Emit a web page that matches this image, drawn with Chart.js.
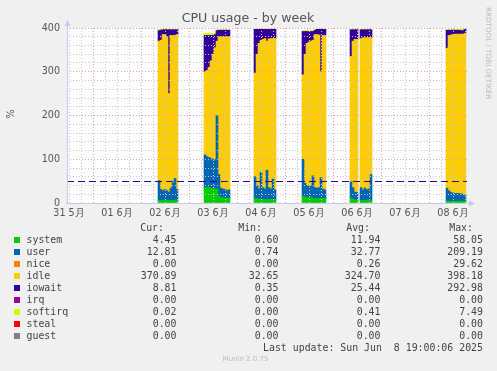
<!DOCTYPE html>
<html>
<head>
<meta charset="utf-8">
<script src="https://cdn.jsdelivr.net/npm/chart.js@4.4.1/dist/chart.umd.min.js"></script>
<style>
  html, body { margin: 0; padding: 0; background: #f0f0f0; }
  #wrap { position: relative; width: 497px; height: 371px; overflow: hidden; }
  #c { position: absolute; left: 0; top: 0; }
  .t { position: absolute; font: 9.9px "DejaVu Sans Mono", monospace; color: #444; line-height: 12px; white-space: pre; }
  .sq { position: absolute; width: 6px; height: 6px; }
  #munin { position: absolute; left: 0; width: 491px; text-align: center; top: 355px; font: 7px "DejaVu Sans", sans-serif; color: #bbb; }
</style>
</head>
<body>
<div id="wrap">
  <canvas id="c" width="497" height="225"></canvas>
  <div id="legend"></div>
  <div id="munin">Munin 2.0.75</div>
</div>
<script>
// hours since 31 May 00:00, one sample per hour where data exists
const hours = [
  57, 58, 59, 60, 61, 62, 63, 64, 65, 66,
  80, 81, 82, 83, 84, 85, 86, 87, 88, 89, 90, 91, 92,
  105, 106, 107, 108, 109, 110, 111, 112, 113, 114, 115,
  129, 130, 131, 132, 133, 134, 135, 136, 137, 138, 139, 140,
  153, 154, 155, 156,
  158, 159, 160, 161, 162, 163,
  201, 202, 203, 204, 205, 206, 207, 208, 209, 210
];
const system = [
  6, 6, 6, 6, 6, 5, 6, 6, 6, 6,
  35, 36, 36, 34, 34, 33, 32, 15, 12, 12, 11, 11, 11,
  10, 10, 9, 8, 8, 8, 8, 8, 8, 8, 8,
  15, 14, 13, 12, 12, 10, 10, 10, 10, 10, 10, 10,
  11, 9, 7, 7,
  6, 6, 6, 6, 6, 6,
  5, 4, 4, 4, 4, 4, 4, 4, 4, 4.45
];
const user = [
  45, 25, 22, 25, 22, 20, 28, 40, 50, 25,
  75, 70, 68, 68, 66, 67, 168, 50, 22, 20, 20, 18, 19,
  50, 30, 23, 62, 27, 24, 67, 27, 24, 47, 22,
  85, 31, 27, 26, 28, 52, 25, 24, 25, 48, 22, 20,
  37, 26, 18, 17,
  29, 24, 28, 24, 26, 59,
  29, 24, 20, 19, 18, 18, 18, 17, 16, 12.81
];
const idle = [
  319, 341, 357, 354, 352, 225, 349, 337, 327, 354,
  190, 197, 206, 223, 240, 255, 170, 315, 346, 348, 349, 351, 350,
  237, 300, 333, 302, 339, 344, 295, 340, 344, 321, 346,
  193, 295, 325, 330, 330, 310, 350, 351, 349, 242, 351, 353,
  287, 335, 349, 350,
  341, 348, 344, 348, 346, 313,
  320, 355, 360, 362, 364, 364, 364, 365, 366, 370.89
];
const iowait = [
  24, 23, 11, 11, 16, 146, 13, 13, 13, 11,
  83, 80, 73, 58, 43, 30, 24, 15, 15, 15, 15, 15, 15,
  100, 57, 32, 25, 23, 21, 27, 22, 21, 21, 21,
  99, 52, 27, 24, 22, 20, 10, 12, 13, 97, 14, 14,
  61, 26, 22, 22,
  20, 18, 18, 18, 18, 18,
  41, 12, 11, 10, 9, 9, 9, 8, 8, 8.81
];
const softirq = [
  3, 2, 1, 1, 1, 1, 1, 1, 1, 1,
  5, 5, 5, 5, 5, 4, 2, 1, 1, 1, 1, 1, 1,
  1, 1, 1, 1, 1, 1, 1, 1, 1, 1, 1,
  2, 2, 2, 2, 2, 2, 1, 1, 1, 1, 1, 1,
  1, 1, 1, 1,
  1, 1, 1, 1, 1, 1,
  1, 1, 1, 1, 1, 1, 2, 3, 3, 0.02
];

const gridHours = [12, 18, 24, 30, 36, 42, 48, 54, 60, 66, 72, 78, 84, 90, 96, 102, 108, 114, 120,
  126, 132, 138, 144, 150, 156, 162, 168, 174, 180, 186, 192, 198, 204, 210];
const dayLabels = ['31 5月', '01 6月', '02 6月', '03 6月', '04 6月', '05 6月', '06 6月', '07 6月', '08 6月'];
const warnLine = 50;

// legend table
const names = ['system', 'user', 'nice', 'idle', 'iowait', 'irq', 'softirq', 'steal', 'guest'];
const colors = ['#00cc00', '#0066b3', '#ff8000', '#ffcc00', '#330099', '#990099', '#ccff00', '#ff0000', '#808080'];
const cur = ['4.45', '12.81', '0.00', '370.89', '8.81', '0.00', '0.02', '0.00', '0.00'];
const min = ['0.60', '0.74', '0.00', '32.65', '0.35', '0.00', '0.00', '0.00', '0.00'];
const avg = ['11.94', '32.77', '0.26', '324.70', '25.44', '0.00', '0.41', '0.00', '0.00'];
const max = ['58.05', '209.19', '29.62', '398.18', '292.98', '0.00', '7.49', '0.00', '0.00'];

function pts(vals) {
  return hours.map((h, i) => ({ x: h, y: vals[i] }));
}

const deco = {
  id: 'deco',
  beforeDraw(chart) {
    const c = chart.ctx, a = chart.chartArea;
    c.save();
    c.fillStyle = '#f0f0f0';
    c.fillRect(0, 0, chart.width, chart.height);
    c.fillStyle = '#ffffff';
    c.fillRect(a.left, a.top, a.right - a.left, a.bottom - a.top);
    c.restore();
  },
  afterDraw(chart) {
    const c = chart.ctx, a = chart.chartArea;
    const y = chart.scales.y;
    c.save();
    // warning line
    c.strokeStyle = '#330099';
    c.lineWidth = 1;
    c.setLineDash([7, 4]);
    const wy = Math.round(y.getPixelForValue(warnLine)) + 0.5;
    c.beginPath(); c.moveTo(a.left, wy); c.lineTo(a.right, wy); c.stroke();
    c.setLineDash([]);
    // axes with arrows
    c.strokeStyle = '#c8c8f0';
    c.fillStyle = '#c8c8f0';
    c.beginPath();
    c.moveTo(a.left + 0.5, a.bottom + 1); c.lineTo(a.left + 0.5, a.top - 4);
    c.moveTo(a.left - 1, a.bottom + 0.5); c.lineTo(a.right + 3, a.bottom + 0.5);
    c.stroke();
    c.beginPath();
    c.moveTo(a.left - 2.5, a.top - 2); c.lineTo(a.left + 3.5, a.top - 2); c.lineTo(a.left + 0.5, a.top - 8); c.closePath(); c.fill();
    c.beginPath();
    c.moveTo(a.right + 2, a.bottom - 2.5); c.lineTo(a.right + 2, a.bottom + 3.5); c.lineTo(a.right + 8, a.bottom + 0.5); c.closePath(); c.fill();
    // title
    c.fillStyle = '#555';
    c.font = '12.6px "DejaVu Sans"';
    c.textAlign = 'center';
    c.textBaseline = 'middle';
    c.fillText('CPU usage - by week', 248, 19);
    // y title
    c.save();
    c.translate(11, 114);
    c.rotate(-Math.PI / 2);
    c.font = '10px "DejaVu Sans"';
    c.fillText('%', 0, 0);
    c.restore();
    // rrdtool credit
    c.save();
    c.translate(488, 7);
    c.rotate(Math.PI / 2);
    c.font = '7.2px "DejaVu Sans"';
    c.fillStyle = '#bbb';
    c.textAlign = 'left';
    c.fillText('RRDTOOL / TOBI OETIKER', 0, 0);
    c.restore();
    c.restore();
  }
};

const tickFont = { family: 'DejaVu Sans', size: 9.6 };

new Chart(document.getElementById('c').getContext('2d'), {
  type: 'bar',
  data: {
    datasets: [
      { label: 'system', data: pts(system), backgroundColor: '#00cc00' },
      { label: 'user', data: pts(user), backgroundColor: '#0066b3' },
      { label: 'idle', data: pts(idle), backgroundColor: '#ffcc00' },
      { label: 'iowait', data: pts(iowait), backgroundColor: '#330099' },
      { label: 'softirq', data: pts(softirq), backgroundColor: '#ccff00' }
    ]
  },
  options: {
    responsive: false,
    animation: false,
    layout: { padding: { top: 28, right: 30, left: 0, bottom: 0 } },
    datasets: { bar: { barPercentage: 1, categoryPercentage: 1, borderWidth: 0 } },
    plugins: { legend: { display: false }, tooltip: { enabled: false } },
    scales: {
      x: {
        type: 'linear', min: 11, max: 211, stacked: true, offset: false,
        afterBuildTicks: s => { s.ticks = gridHours.map(v => ({ value: v })); },
        afterFit: s => { s.height = 22; },
        grid: { offset: false, drawTicks: false, z: 1,
          color: c => (c.tick && c.tick.value % 24 === 0) ? '#eea0a0' : '#c8c8c8' },
        border: { display: false, dash: [1, 2] },
        ticks: { autoSkip: false, maxRotation: 0, padding: 5, font: tickFont, color: '#555',
          callback: v => v % 24 === 12 ? dayLabels[(v - 12) / 24] : '' }
      },
      y: {
        min: 0, max: 400, stacked: true,
        afterFit: s => { s.width = 67; },
        grid: { drawTicks: false, z: 1,
          color: c => (c.tick && c.tick.value % 100 === 0) ? '#eea0a0' : '#c8c8c8' },
        border: { display: false, dash: [1, 2] },
        ticks: { stepSize: 20, autoSkip: false, padding: 7, font: tickFont, color: '#555',
          callback: v => v % 100 === 0 ? v : '' }
      }
    }
  },
  plugins: [deco]
});

// legend table as text
const lg = document.getElementById('legend');
function txt(s, top, left, right) {
  const d = document.createElement('div');
  d.className = 't';
  d.textContent = s;
  d.style.top = (top - 6) + 'px';
  if (left !== null) d.style.left = left + 'px';
  else { d.style.right = (497 - right) + 'px'; d.style.textAlign = 'right'; }
  lg.appendChild(d);
}
txt('Cur:', 228, null, 164);
txt('Min:', 228, null, 262);
txt('Avg:', 228, null, 370);
txt('Max:', 228, null, 473);
names.forEach((n, i) => {
  const cy = 240 + i * 12;
  const sq = document.createElement('div');
  sq.className = 'sq';
  sq.style.left = '14px';
  sq.style.top = (cy - 3) + 'px';
  sq.style.background = colors[i];
  lg.appendChild(sq);
  txt(n, cy, 26.5, null);
  txt(cur[i], cy, null, 176.5);
  txt(min[i], cy, null, 278.5);
  txt(avg[i], cy, null, 380.5);
  txt(max[i], cy, null, 483);
});
txt('Last update: Sun Jun  8 19:00:06 2025', 348, null, 483);
</script>
</body>
</html>
